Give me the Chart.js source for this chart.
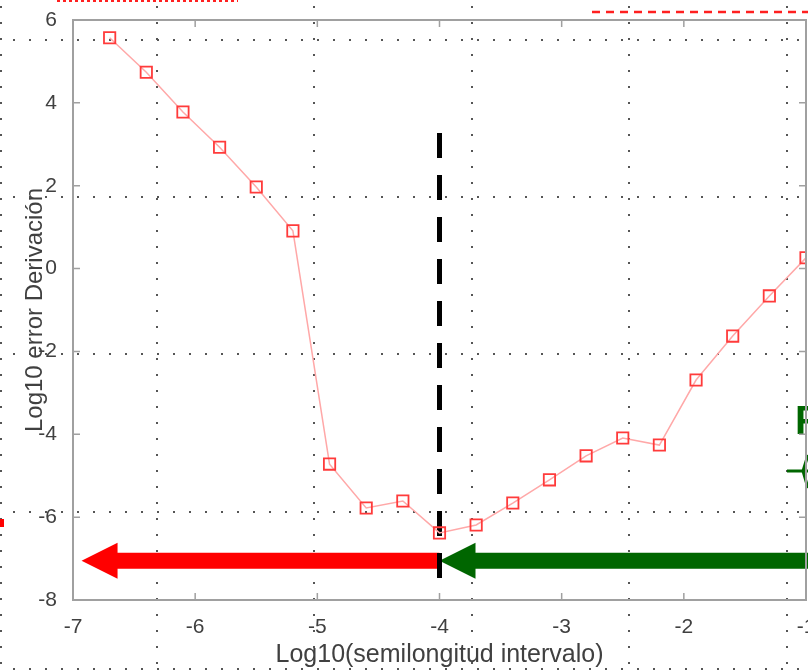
<!DOCTYPE html>
<html>
<head>
<meta charset="utf-8">
<script src="https://cdn.jsdelivr.net/npm/chart.js@4.4.0/dist/chart.umd.min.js"></script>
<style>
  body { margin: 0; background: #fff; }
  #wrap { width: 808px; height: 670px; }
</style>
</head>
<body>
<div id="wrap"><canvas id="myChart"></canvas></div>
<script>
// log10 of interval half-length vs log10 of derivative error
var steps = [-6.7, -6.4, -6.1, -5.8, -5.5, -5.2, -4.9, -4.6, -4.3, -4.0,
             -3.7, -3.4, -3.1, -2.8, -2.5, -2.2, -1.9, -1.6, -1.3, -1.0];
var errors = [5.57, 4.74, 3.78, 2.93, 1.97, 0.91, -4.72, -5.78, -5.61, -6.38,
              -6.19, -5.66, -5.10, -4.52, -4.09, -4.26, -2.69, -1.63, -0.66, 0.26];

// optimum marker (vertical dashed) and the two arrows
var optX = -4;
var optY = [3.27, -7.52];
var arrowY = -7.05;
var redArrow = [-4, -6.93];    // tail, tip
var greenArrow = [-0.5, -4];   // tail, tip

var xTicks = [-7, -6, -5, -4, -3, -2, -1];
var yTicks = [-8, -6, -4, -2, 0, 2, 4, 6];

function pts(xa, ya) {
    return xa.map(function (x, i) { return {x: x, y: ya[i]}; });
}

function drawArrow(ctx, xs, ys, from, to, color) {
    var x0 = xs.getPixelForValue(from);
    var x1 = xs.getPixelForValue(to);
    var y = ys.getPixelForValue(arrowY);
    var dir = x1 < x0 ? 1 : -1;
    var headLen = 36, shaft = 8, head = 18;
    var xb = x1 + dir * headLen;
    ctx.fillStyle = color;
    ctx.beginPath();
    ctx.moveTo(x0, y - shaft);
    ctx.lineTo(xb, y - shaft);
    ctx.lineTo(xb, y - head);
    ctx.lineTo(x1, y);
    ctx.lineTo(xb, y + head);
    ctx.lineTo(xb, y + shaft);
    ctx.lineTo(x0, y + shaft);
    ctx.closePath();
    ctx.fill();
}

var frame = {
    id: 'frame',
    beforeDraw: function (chart) {
        var c = chart.ctx;
        c.save();
        c.fillStyle = '#fff';
        c.fillRect(0, 0, chart.width, chart.height);
        // dotted grid of the surrounding figure
        c.strokeStyle = '#555';
        c.lineWidth = 2;
        c.setLineDash([2, 14]);
        [1, 157, 314, 472, 629, 787].forEach(function (x) {
            c.lineDashOffset = -6;
            c.beginPath(); c.moveTo(x, 0); c.lineTo(x, chart.height); c.stroke();
        });
        [40, 197, 354, 512, 669].forEach(function (y) {
            c.lineDashOffset = -13;
            c.beginPath(); c.moveTo(0, y); c.lineTo(chart.width, y); c.stroke();
        });
        // fragments of neighbouring plots
        c.strokeStyle = '#ff2020';
        c.setLineDash([3, 3]);
        c.lineDashOffset = 0;
        c.beginPath(); c.moveTo(57, 1); c.lineTo(238, 1); c.stroke();
        c.setLineDash([8, 6]);
        c.lineWidth = 2.5;
        c.beginPath(); c.moveTo(592, 12); c.lineTo(808, 12); c.stroke();
        c.setLineDash([]);
        c.fillStyle = '#ff0000';
        c.fillRect(0, 519, 4, 8);
        c.fillStyle = '#006600';
        c.font = 'bold 40px "Liberation Sans"';
        c.fillText('F', 795, 434);
        c.strokeStyle = '#006600';
        c.lineWidth = 3;
        c.beginPath(); c.moveTo(787, 471); c.lineTo(808, 471); c.stroke();
        c.beginPath(); c.moveTo(808, 455); c.lineTo(803, 471); c.lineTo(808, 488); c.stroke();
        c.restore();
    },
    beforeDatasetsDraw: function (chart) {
        var c = chart.ctx, xs = chart.scales.x, ys = chart.scales.y;
        c.save();
        drawArrow(c, xs, ys, redArrow[0], redArrow[1], '#ff0000');
        drawArrow(c, xs, ys, greenArrow[0], greenArrow[1], '#006600');
        c.restore();
    },
    afterDraw: function (chart) {
        var c = chart.ctx, a = chart.chartArea, xs = chart.scales.x, ys = chart.scales.y;
        c.save();
        c.strokeStyle = '#a0a0a0';
        c.lineWidth = 2;
        c.strokeRect(a.left, a.top, a.right - a.left, a.bottom - a.top);
        c.lineWidth = 1.5;
        c.beginPath();
        xTicks.forEach(function (v) {
            var x = xs.getPixelForValue(v);
            c.moveTo(x, a.bottom); c.lineTo(x, a.bottom - 7);
            c.moveTo(x, a.top); c.lineTo(x, a.top + 7);
        });
        yTicks.forEach(function (v) {
            var y = ys.getPixelForValue(v);
            c.moveTo(a.left, y); c.lineTo(a.left + 7, y);
            c.moveTo(a.right, y); c.lineTo(a.right - 7, y);
        });
        c.stroke();
        c.restore();
    }
};

var ctx = document.getElementById('myChart').getContext('2d');
var myChart = new Chart(ctx, {
    type: 'scatter',
    data: {
        datasets: [{
            label: 'error',
            data: pts(steps, errors),
            showLine: true,
            borderColor: '#ffa8a8',
            borderWidth: 1.5,
            pointStyle: 'rect',
            pointRadius: 8,
            pointBorderColor: '#ff3b3b',
            pointBorderWidth: 1.8,
            pointBackgroundColor: 'rgba(0,0,0,0)'
        }, {
            label: 'optimo',
            data: pts([optX, optX], optY),
            showLine: true,
            borderColor: '#000',
            borderWidth: 5,
            borderDash: [25, 17],
            pointRadius: 0
        }]
    },
    options: {
        responsive: true,
        maintainAspectRatio: false,
        animation: false,
        layout: { autoPadding: false, padding: { top: 20, right: 2, left: 0, bottom: 0 } },
        plugins: {
            legend: { display: false },
            tooltip: { enabled: false }
        },
        scales: {
            x: {
                type: 'linear',
                min: -7,
                max: -1,
                afterBuildTicks: function (s) { s.ticks = xTicks.map(function (v) { return {value: v}; }); },
                afterFit: function (s) { s.height = 70; s.paddingLeft = 0; s.paddingRight = 0; },
                grid: { display: false },
                border: { display: false },
                ticks: { color: '#404040', padding: 7, maxRotation: 0, font: { family: 'Liberation Sans', size: 21 } },
                title: {
                    display: true,
                    text: 'Log10(semilongitud intervalo)',
                    color: '#404040',
                    padding: { top: 0, bottom: 0 },
                    font: { family: 'Liberation Sans', size: 25 }
                }
            },
            y: {
                min: -8,
                max: 6,
                afterBuildTicks: function (s) { s.ticks = yTicks.map(function (v) { return {value: v}; }); },
                afterFit: function (s) { s.width = 73; s.paddingTop = 0; s.paddingBottom = 0; },
                grid: { display: false },
                border: { display: false },
                ticks: { color: '#404040', padding: 8, font: { family: 'Liberation Sans', size: 21 } },
                title: {
                    display: true,
                    text: 'Log10 error Derivación',
                    color: '#404040',
                    padding: { top: 21, bottom: 0 },
                    font: { family: 'Liberation Sans', size: 24 }
                }
            }
        }
    },
    plugins: [frame]
});
</script>
</body>
</html>
